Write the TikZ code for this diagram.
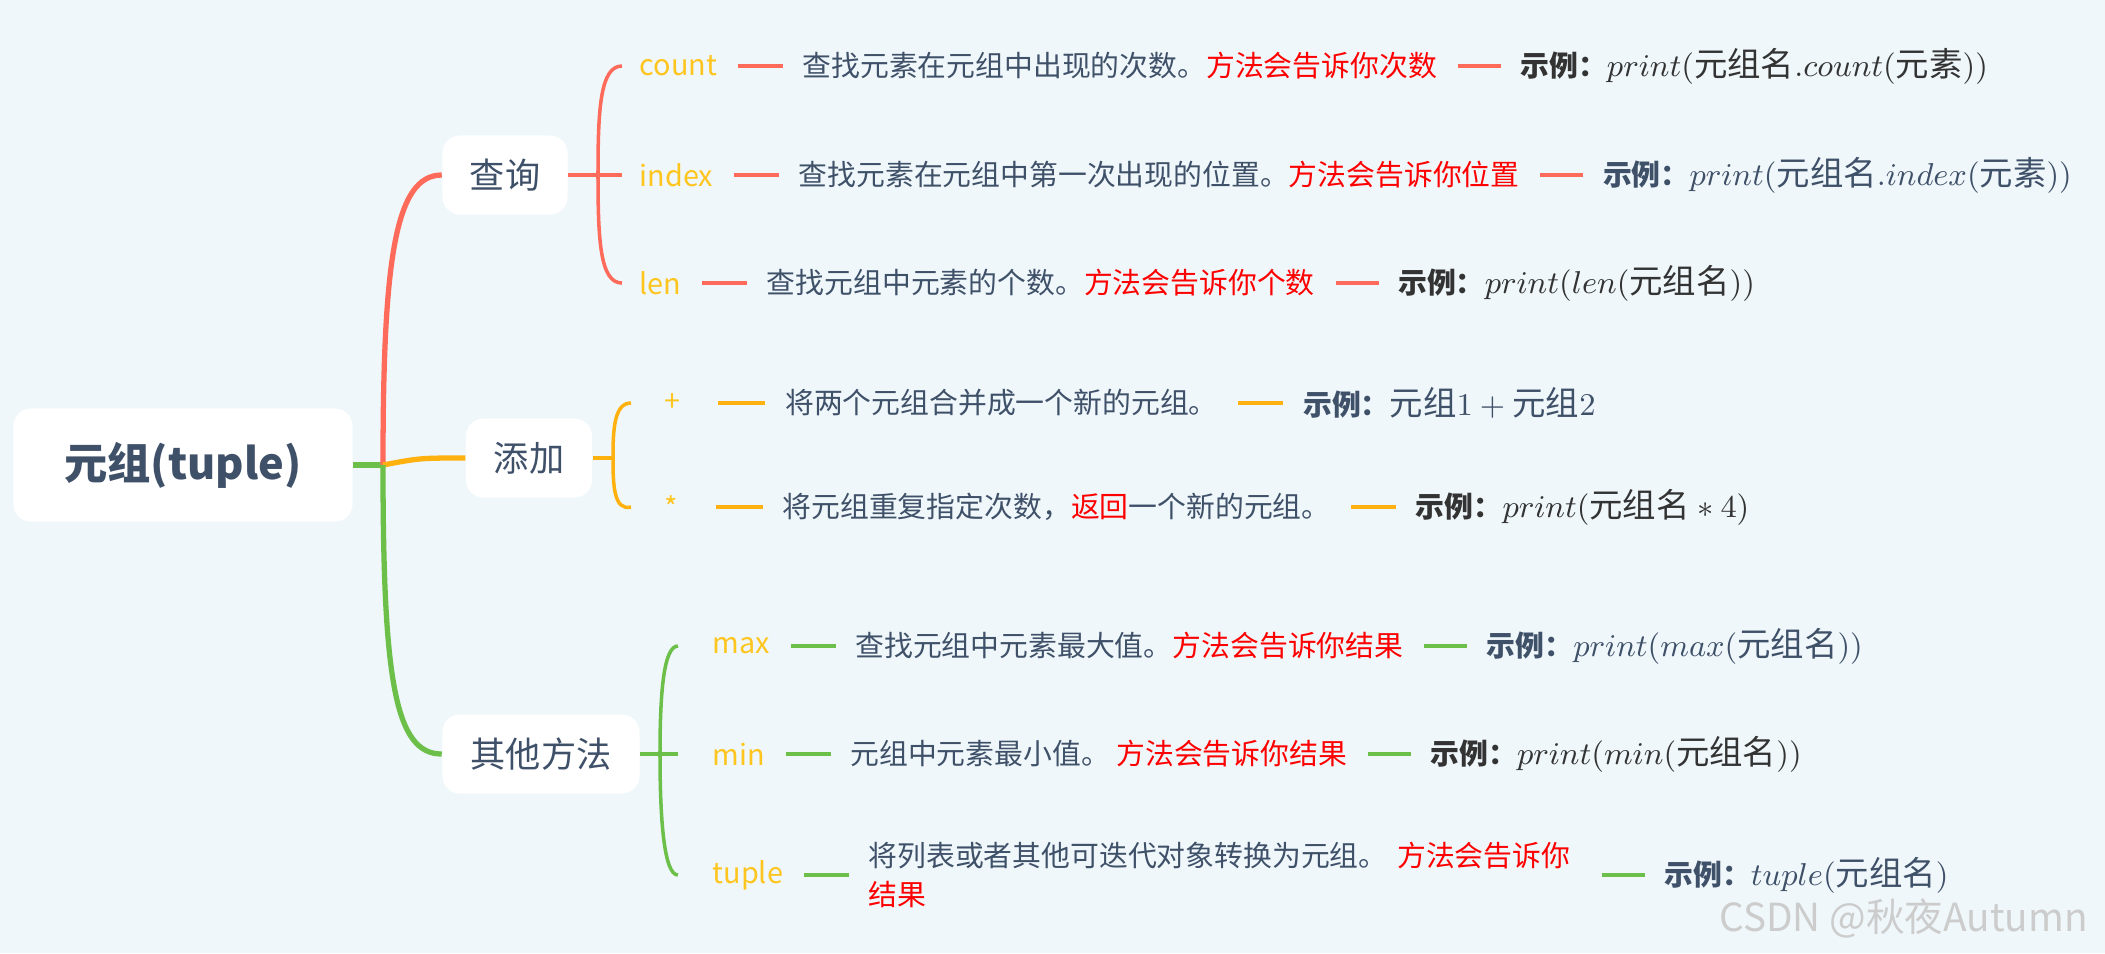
\documentclass[tikz,border=0pt]{standalone}
\usepackage[no-math]{fontspec}
\setmainfont{Noto Sans CJK SC}
\usepackage{xcolor}
\usepackage{tikz}
\usetikzlibrary{positioning}
\definecolor{sfondo}{HTML}{EFF7FA}
\definecolor{ardesia}{HTML}{3F5069}
\definecolor{scuro}{HTML}{333333}
\definecolor{rosso}{HTML}{FF6B5A}
\definecolor{arancio}{HTML}{FFB20F}
\definecolor{verde}{HTML}{6CC04A}
\definecolor{giallo}{HTML}{FFC51F}
\definecolor{acceso}{HTML}{FF0000}
\newcommand{\corpo}{\fontsize{8.2pt}{11pt}\selectfont}
\newcommand{\formula}[1]{{\fontsize{9.5pt}{12pt}\selectfont$#1$}}
\tikzset{
  tema/.style={fill=white, rounded corners=5pt, text=ardesia, minimum height=0.79cm, font=\fontsize{10pt}{12pt}\selectfont},
  voce/.style={anchor=west, inner sep=0pt, text=giallo, font=\corpo},
  descr/.style={inner sep=0pt, text=ardesia, font=\corpo},
  esempio/.style={inner sep=0pt, font=\corpo},
  semplice/.style={},
  tupla/.style={text width=7.12cm, align=left},
  trattino/.style={line width=1.1pt, shorten <=0.2cm, shorten >=0.19cm},
  ramo/.style={line width=1.5pt},
  graffa/.style={line width=1pt}
}

\begin{document}
\begin{tikzpicture}[x=0.01cm, y=-0.01cm]
  \fill[sfondo] (0,0) rectangle (2105,953);
  \useasboundingbox (0,0) rectangle (2105,953);

  \node[tema, minimum width=3.39cm, minimum height=1.13cm, font=\fontsize{12.3pt}{15pt}\selectfont\bfseries] (radice) at (183,465) {元组(tuple)};
  \node[tema, minimum width=1.25cm] (cerca) at (505,175) {查询};
  \node[tema, minimum width=1.26cm] (aggiungi) at (529,458) {添加};
  \node[tema, minimum width=1.97cm] (altri) at (541,754) {其他方法};
  \coordinate (nodo) at (383,465);

  \draw[ramo, verde] (radice.east) -- (nodo);
  \draw[ramo, rosso] (nodo) .. controls (383,260) and (395,175) .. (cerca.west);
  \draw[ramo, arancio] (nodo) .. controls (420,458) .. (aggiungi.west);
  \draw[ramo, verde] (nodo) .. controls (383,680) and (395,754) .. (altri.west);

  \foreach \n/\y/\lab/\col/\desc/\es in {
    count/66/count/scuro/{查找元素在元组中出现的次数。\textcolor{acceso}{方法会告诉你次数}}/{print(\mbox{元组名}.count(\mbox{元素}))},
    index/175/index/ardesia/{查找元素在元组中第一次出现的位置。\textcolor{acceso}{方法会告诉你位置}}/{print(\mbox{元组名}.index(\mbox{元素}))},
    len/283/len/scuro/{查找元组中元素的个数。\textcolor{acceso}{方法会告诉你个数}}/{print(len(\mbox{元组名}))}}{
    \node[voce] (l\n) at (639,\y) {\lab};
    \node[descr, right=0.84cm of l\n] (d\n) {\desc};
    \node[esempio, text=\col, right=0.82cm of d\n] (e\n) {\textbf{示例：}\formula{\es}};
    \draw[trattino, rosso] (l\n) -- (d\n);
    \draw[trattino, rosso] (d\n) -- (e\n);
  }

  \foreach \n/\y/\lab/\col/\desc/\es in {
    piu/403/+/ardesia/{将两个元组合并成一个新的元组。}/{\mbox{元组}1+\mbox{元组}2},
    per/507/*/scuro/{将元组重复指定次数，\textcolor{acceso}{返回}一个新的元组。}/{print(\mbox{元组名}*4)}}{
    \node[voce] (l\n) at (664,\y) {\lab};
    \node[descr, right=1.03cm of l\n] (d\n) {\desc};
    \node[esempio, text=\col, right=0.84cm of d\n] (e\n) {\textbf{示例：}\formula{\es}};
    \draw[trattino, arancio, shorten <=0.37cm] (l\n) -- (d\n);
    \draw[trattino, arancio] (d\n) -- (e\n);
  }

  \foreach \n/\y/\lab/\s/\col/\desc/\es in {
    max/646/max/semplice/ardesia/{查找元组中元素最大值。\textcolor{acceso}{方法会告诉你结果}}/{print(max(\mbox{元组名}))},
    min/754/min/semplice/scuro/{元组中元素最小值。 \textcolor{acceso}{方法会告诉你结果}}/{print(min(\mbox{元组名}))},
    tuple/875/tuple/tupla/ardesia/{将列表或者其他可迭代对象转换为元组。 \textcolor{acceso}{方法会告诉你\\结果}}/{tuple(\mbox{元组名})}}{
    \node[voce] (l\n) at (712,\y) {\lab};
    \node[descr, \s, right=0.84cm of l\n] (d\n) {\desc};
    \node[esempio, text=\col, right=0.82cm of d\n] (e\n) {\textbf{示例：}\formula{\es}};
    \draw[trattino, verde] (l\n) -- (d\n);
    \draw[trattino, verde] (d\n) -- (e\n);
  }

  \draw[graffa, rosso] (cerca.east) -- ([xshift=-0.17cm]lindex.west);
  \draw[graffa, rosso] ([xshift=-0.17cm]lcount.west) .. controls (600,66) and (598,110) .. (598,175)
    .. controls (598,240) and (600,283) .. ([xshift=-0.17cm]llen.west);
  \draw[graffa, arancio] (aggiungi.east) -- (615,458);
  \draw[graffa, arancio] ([xshift=-0.33cm]lpiu.west) .. controls (614,403) and (613,430) .. (613,458)
    .. controls (613,486) and (614,511) .. ([xshift=-0.33cm]lper.west);
  \draw[graffa, verde] (altri.east) -- ([xshift=-0.34cm]lmin.west);
  \draw[graffa, verde] ([xshift=-0.34cm]lmax.west) .. controls (664,646) and (660,690) .. (660,754)
    .. controls (660,820) and (664,875) .. ([xshift=-0.34cm]ltuple.west);

  \node[anchor=east, text=black!20, font=\fontsize{11pt}{13pt}\selectfont] (firma) at (2100,918) {CSDN @秋夜Autumn};
\end{tikzpicture}
\end{document}
